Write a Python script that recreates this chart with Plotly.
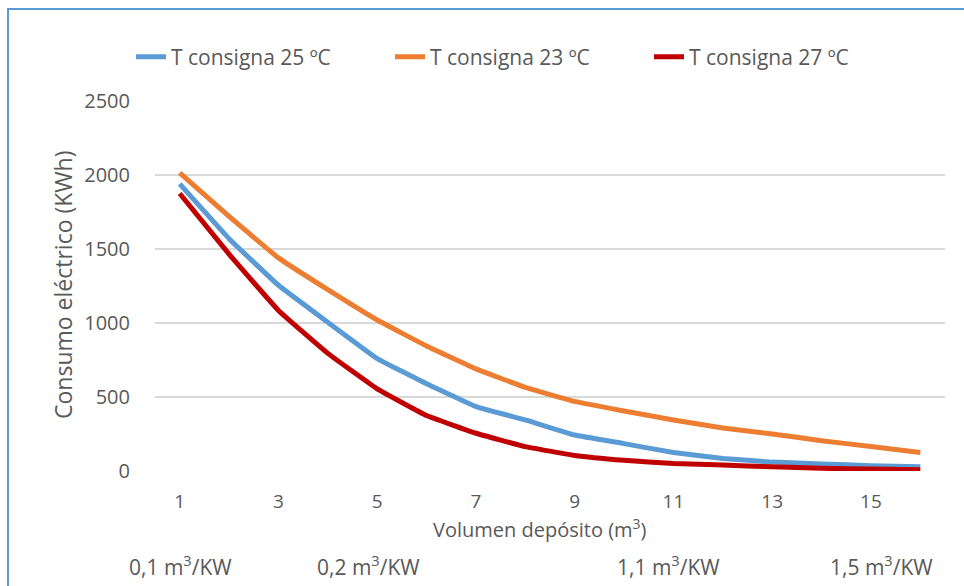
import plotly.graph_objects as go

volumen = list(range(1, 17))
t25 = [1940, 1570, 1255, 1005, 760, 590, 435, 345, 243, 185, 125, 85, 60, 47, 36, 28]
t23 = [2015, 1720, 1440, 1225, 1020, 845, 690, 565, 470, 405, 345, 290, 250, 205, 165, 125]
t27 = [1875, 1465, 1085, 795, 555, 375, 255, 165, 105, 72, 50, 40, 28, 18, 13, 8]
x_ticks = [1, 3, 5, 7, 9, 11, 13, 15]
y_ticks = [0, 500, 1000, 1500, 2000, 2500]
ratio_labels = ["0,1 m<sup>3</sup>/KW", "0,2 m<sup>3</sup>/KW", "1,1 m<sup>3</sup>/KW", "1,5 m<sup>3</sup>/KW"]
ratio_px = [180, 368, 668, 881]

W, H = 964, 586
L, R, T, B = 155, 19, 101, 115
PW, PH = W - L - R, H - T - B
GRAY = "#595959"
FONT = "Open Sans"

def px_x(p):
    return (p - L) / PW

def px_y(p):
    return (H - B - p) / PH

fig = go.Figure()
for name, ys, col in [("T consigna 25 ºC", t25, "#5B9BD5"),
                      ("T consigna 23 ºC", t23, "#ED7D31"),
                      ("T consigna 27 ºC", t27, "#C00000")]:
    fig.add_trace(go.Scatter(x=volumen, y=ys, mode="lines", name=name,
                             line=dict(color=col, width=5, shape="spline", smoothing=0.25)))

annotations = [
    dict(text="Consumo eléctrico (KWh)", textangle=-90, x=px_x(63), y=px_y(285),
         xanchor="center", yanchor="middle",
         xref="paper", yref="paper", showarrow=False, font=dict(size=23, color=GRAY, family=FONT)),
    dict(text="Volumen depósito (m<sup>3</sup>)", x=px_x(540), y=px_y(528),
         xanchor="center", yanchor="middle",
         xref="paper", yref="paper", showarrow=False, font=dict(size=20, color=GRAY, family=FONT)),
]
for lab, p in zip(ratio_labels, ratio_px):
    annotations.append(dict(text=lab, x=px_x(p), y=px_y(565), xref="paper", yref="paper",
                            xanchor="center", yanchor="middle",
                            showarrow=False, font=dict(size=21, color=GRAY, family=FONT)))

fig.update_layout(
    width=W, height=H,
    margin=dict(l=L, r=R, t=T, b=B),
    paper_bgcolor="white", plot_bgcolor="white",
    font=dict(family=FONT, color=GRAY, size=17),
    showlegend=True,
    legend=dict(orientation="h", x=px_x(131), xanchor="left", y=px_y(57), yanchor="middle",
                font=dict(size=21, color=GRAY, family=FONT), entrywidth=214,
                bgcolor="rgba(0,0,0,0)"),
    xaxis=dict(range=[0.5, 16.5], tickvals=x_ticks, ticktext=[str(v) for v in x_ticks],
               showgrid=False, zeroline=False, showline=False,
               ticks="outside", ticklen=13, tickcolor="rgba(0,0,0,0)",
               tickfont=dict(size=19, color=GRAY, family=FONT)),
    yaxis=dict(range=[0, 2500], tickvals=y_ticks, showgrid=True, gridcolor="#D9D9D9", gridwidth=1.5,
               zeroline=False, showline=False,
               ticks="outside", ticklen=20, tickcolor="rgba(0,0,0,0)",
               tickfont=dict(size=20, color=GRAY, family=FONT)),
    annotations=annotations,
    shapes=[dict(type="rect", xref="paper", yref="paper",
                 x0=px_x(8), x1=px_x(1100), y0=px_y(700), y1=px_y(9),
                 line=dict(color="#5B9BD5", width=2), layer="above")],
)

fig.write_html("out.html")
